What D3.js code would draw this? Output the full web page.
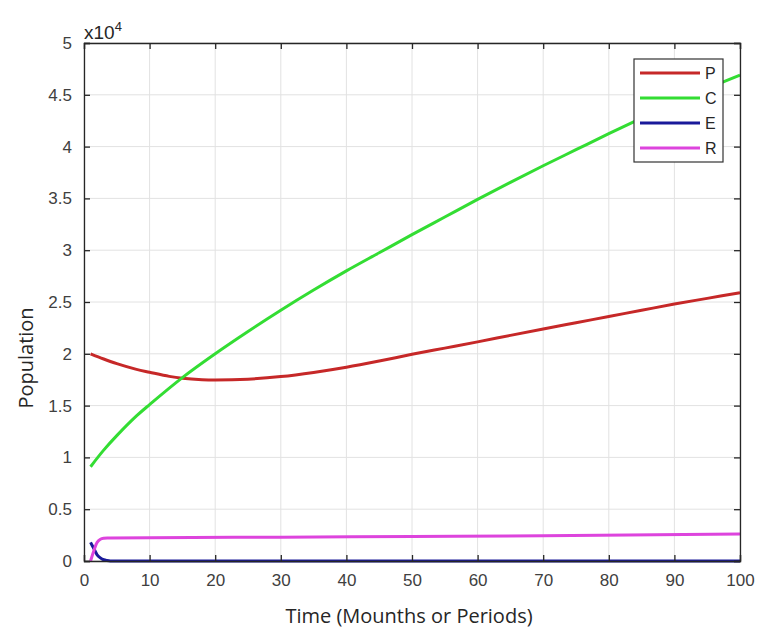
<!DOCTYPE html>
<html>
<head>
<meta charset="utf-8">
<script src="https://cdn.jsdelivr.net/npm/d3@7"></script>
<style>
  body { margin: 0; background: #fff; }
  text { font-family: "Open Sans", "DejaVu Sans", sans-serif; }
</style>
</head>
<body>
<svg id="chart" width="760" height="637"></svg>
<script>
// values are in units of 10^4
const timeP = [1, 3, 5, 8, 10, 13, 15, 18, 20, 25, 30, 35, 40, 45, 50, 55, 60, 65, 70, 75, 80, 85, 90, 95, 100];
const valP = [2.0, 1.95, 1.905, 1.85, 1.822, 1.782, 1.764, 1.75, 1.747, 1.755, 1.78, 1.82, 1.87, 1.93, 1.995, 2.055, 2.115, 2.178, 2.24, 2.30, 2.36, 2.42, 2.48, 2.535, 2.59];
const timeC = [1, 3, 5, 8, 10, 15, 20, 25, 30, 35, 40, 45, 50, 55, 60, 65, 70, 75, 80, 85, 90, 95, 100];
const valC = [0.91, 1.07, 1.21, 1.4, 1.51, 1.77, 2.0, 2.215, 2.42, 2.615, 2.8, 2.975, 3.15, 3.32, 3.49, 3.655, 3.815, 3.97, 4.125, 4.275, 4.42, 4.56, 4.69];
const timeE = [1, 1.5, 2, 2.5, 3, 3.5, 4, 10, 50, 100];
const valE = [0.18, 0.12, 0.06, 0.03, 0.012, 0.004, 0, 0, 0, 0];
const timeR = [1, 1.5, 2, 2.5, 3, 4, 10, 30, 50, 70, 100];
const valR = [0.0, 0.1, 0.18, 0.21, 0.22, 0.222, 0.225, 0.23, 0.236, 0.243, 0.26];

const seriesNames = ["P", "C", "E", "R"];
const seriesColors = ["#c62828", "#33dd33", "#1a1a9a", "#dd44dd"];
const seriesTimes = [timeP, timeC, timeE, timeR];
const seriesVals = [valP, valC, valE, valR];

const xTicks = d3.range(0, 101, 10);
const yTicks = d3.range(0, 5.01, 0.5);

const svg = d3.select("#chart");
const margin = { left: 84, right: 20, top: 43, bottom: 76 };
const width = 760 - margin.left - margin.right;
const height = 637 - margin.top - margin.bottom;

const x = d3.scaleLinear().domain([0, 100]).range([margin.left, margin.left + width]);
const y = d3.scaleLinear().domain([0, 5]).range([margin.top + height, margin.top]);

// grid
const grid = svg.append("g");
grid.selectAll(".gx").data(xTicks).enter().append("line")
  .attr("x1", d => x(d)).attr("x2", d => x(d))
  .attr("y1", margin.top).attr("y2", margin.top + height)
  .attr("stroke", "#e2e2e2").attr("stroke-width", 1);
grid.selectAll(".gy").data(yTicks).enter().append("line")
  .attr("y1", d => y(d)).attr("y2", d => y(d))
  .attr("x1", margin.left).attr("x2", margin.left + width)
  .attr("stroke", "#e2e2e2").attr("stroke-width", 1);

// lines (monotone for E so it doesn't dip under zero)
const smooth = d3.line().x(d => x(d[0])).y(d => y(d[1])).curve(d3.curveCatmullRom);
const mono = d3.line().x(d => x(d[0])).y(d => y(d[1])).curve(d3.curveMonotoneX);
seriesNames.forEach((name, i) => {
  const pts = seriesTimes[i].map((t, j) => [t, seriesVals[i][j]]);
  svg.append("path")
    .datum(pts)
    .attr("fill", "none")
    .attr("stroke", seriesColors[i])
    .attr("stroke-width", 3)
    .attr("d", name === "E" ? mono : smooth);
});

// axes (ticks inward, box on)
const fmt = d => d3.format("~g")(d);
const axBottom = svg.append("g")
  .attr("transform", `translate(0,${margin.top + height})`)
  .call(d3.axisBottom(x).tickValues(xTicks).tickSize(-6).tickPadding(13).tickFormat(fmt));
const axLeft = svg.append("g")
  .attr("transform", `translate(${margin.left},0)`)
  .call(d3.axisLeft(y).tickValues(yTicks).tickSize(-6).tickPadding(12).tickFormat(fmt));
const axTop = svg.append("g")
  .attr("transform", `translate(0,${margin.top})`)
  .call(d3.axisTop(x).tickValues(xTicks).tickSize(-6).tickFormat(""));
const axRight = svg.append("g")
  .attr("transform", `translate(${margin.left + width},0)`)
  .call(d3.axisRight(y).tickValues(yTicks).tickSize(-6).tickFormat(""));

[axBottom, axLeft, axTop, axRight].forEach(g => {
  g.select(".domain").attr("stroke", "#262626").attr("stroke-width", 1.3);
  g.selectAll(".tick line").attr("stroke", "#262626").attr("stroke-width", 1.3);
  g.selectAll(".tick text").attr("fill", "#404040").attr("font-size", 17)
    .style("font-family", "'Liberation Sans', Arial, sans-serif");
});

// exponent label
const expo = svg.append("text").attr("x", margin.left).attr("y", 39)
  .attr("font-size", 19).attr("fill", "#262626")
  .style("font-family", "'Liberation Sans', Arial, sans-serif");
expo.append("tspan").text("x10");
expo.append("tspan").attr("dy", -8).attr("font-size", 13).text("4");

// axis labels
svg.append("text")
  .attr("x", margin.left + width / 2 - 3).attr("y", 623)
  .attr("text-anchor", "middle").attr("font-size", 20).attr("fill", "#262626")
  .text("Time (Mounths or Periods)");
svg.append("text")
  .attr("transform", `translate(33,${margin.top + height / 2 + 56}) rotate(-90)`)
  .attr("text-anchor", "middle").attr("font-size", 20).attr("fill", "#262626")
  .text("Population");

// legend
const lg = svg.append("g").attr("transform", "translate(634,59)");
lg.append("rect").attr("width", 89).attr("height", 103)
  .attr("fill", "#fff").attr("stroke", "#333").attr("stroke-width", 1.2);
seriesNames.forEach((name, i) => {
  const yy = 14 + i * 25;
  lg.append("line").attr("x1", 6).attr("x2", 66).attr("y1", yy).attr("y2", yy)
    .attr("stroke", seriesColors[i]).attr("stroke-width", 3);
  lg.append("text").attr("x", 71).attr("y", yy + 6).attr("font-size", 16)
    .attr("fill", "#262626").style("font-family", "'Liberation Sans', Arial, sans-serif")
    .text(name);
});
</script>
</body>
</html>
